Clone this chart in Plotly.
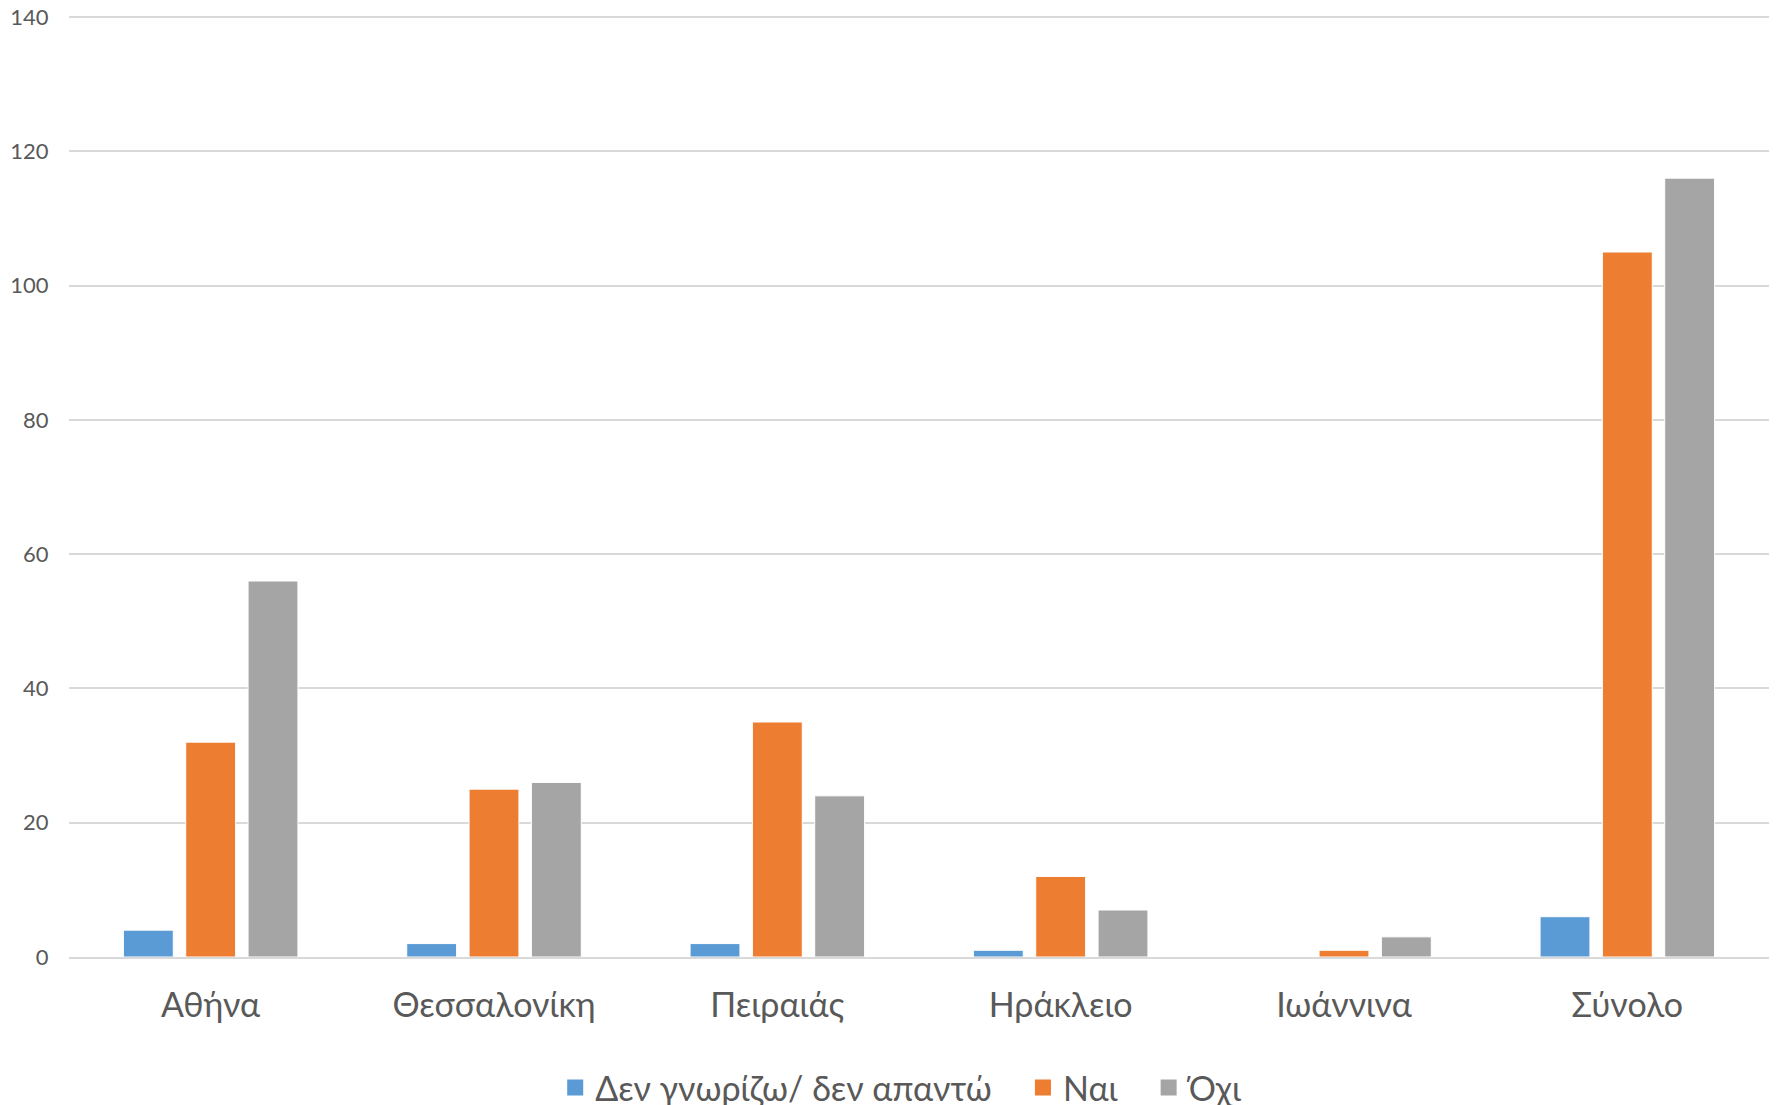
import plotly.graph_objects as go

categories = ["Αθήνα", "Θεσσαλονίκη", "Πειραιάς", "Ηράκλειο", "Ιωάννινα", "Σύνολο"]
series_names = ["Δεν γνωρίζω/ δεν απαντώ", "Ναι", "Όχι"]
dont_know = [4, 2, 2, 1, 0, 6]
yes = [32, 25, 35, 12, 1, 105]
no = [56, 26, 24, 7, 3, 116]
y_ticks = [0, 20, 40, 60, 80, 100, 120, 140]

colors = ["#5B9BD5", "#ED7D31", "#A5A5A5"]
font_family = "Lato, 'Noto Sans', sans-serif"
pad = "\u00a0" * 3

fig = go.Figure()
for name, vals, col in zip(series_names, [dont_know, yes, no], colors):
    fig.add_trace(go.Bar(
        x=categories, y=vals, name=name, showlegend=False,
        marker=dict(color=col, line=dict(color="white", width=1)),
    ))
# legend entries with larger square swatches
for name, col in zip(series_names, colors):
    fig.add_trace(go.Scatter(
        x=[None], y=[None], mode="markers", name=name + pad,
        marker=dict(symbol="square", color=col, size=16),
    ))

fig.update_layout(
    width=1777, height=1105,
    margin=dict(l=61, r=16, t=7, b=156, autoexpand=False),
    paper_bgcolor="white", plot_bgcolor="white",
    barmode="group", bargap=0.34, bargroupgap=0.2,
    font=dict(family=font_family, color="#595959"),
    showlegend=True,
    legend=dict(orientation="h", x=0.286, xanchor="left", y=-0.139, yanchor="middle",
                font=dict(size=34, color="#595959"), itemwidth=30, traceorder="normal"),
    xaxis=dict(tickfont=dict(size=34, color="#595959"), showgrid=False,
               showline=True, linecolor="#D9D9D9", linewidth=2,
               ticks="outside", ticklen=17, tickcolor="rgba(0,0,0,0)", automargin=False),
    yaxis=dict(range=[0, 140.3], tickvals=y_ticks, tickfont=dict(size=22, color="#595959"),
               showgrid=True, gridcolor="#D9D9D9", gridwidth=1.5, zeroline=False,
               showline=False, ticks="outside", ticklen=15, tickcolor="rgba(0,0,0,0)",
               ticklabeloverflow="allow", automargin=False),
)

fig.write_html("out.html")
